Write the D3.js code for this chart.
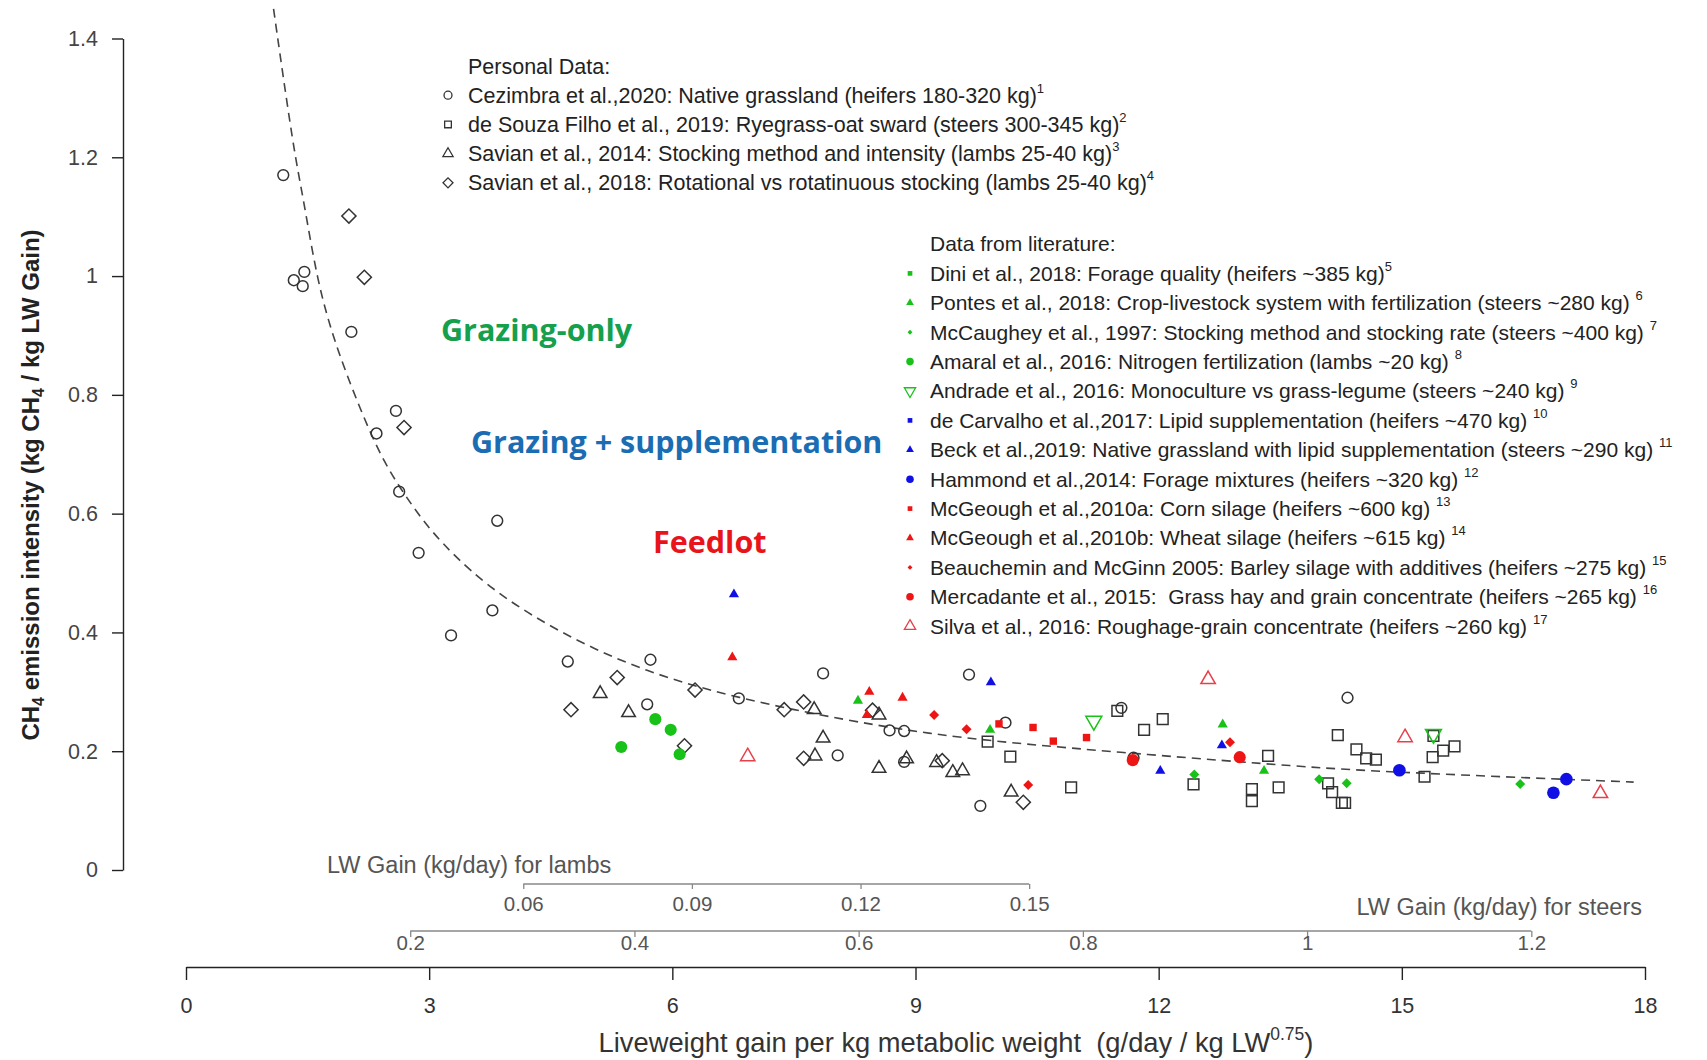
<!DOCTYPE html>
<html>
<head>
<meta charset="utf-8">
<script src="https://cdn.jsdelivr.net/npm/d3@7"></script>
<style>
  body { margin: 0; background: #fff; }
  text { font-family: "Liberation Sans", Arial, sans-serif; }
  .note { font-family: "Open Sans", "Liberation Sans", sans-serif; font-weight: 700; }
</style>
</head>
<body>
<svg id="chart" width="1707" height="1060"></svg>
<script>
// values: [LW gain per kg LW^0.75, kg CH4 / kg LW gain]
const cezimbra = [[1.20,1.170],[1.33,0.993],[1.46,1.007],[1.44,0.983],[2.04,0.906],[2.59,0.773],[2.35,0.735],
  [2.63,0.637],[3.84,0.588],[2.87,0.534],[3.78,0.437],[3.27,0.395],[4.71,0.351],[5.73,0.354],[5.69,0.279],
  [7.86,0.331],[6.82,0.289],[8.04,0.193],[8.68,0.235],[8.86,0.234],[8.86,0.182],[9.66,0.329],[10.11,0.248],
  [9.80,0.108],[11.54,0.273],[11.69,0.189],[14.33,0.290]]
const deSouza = [[9.89,0.216],[10.17,0.191],[10.92,0.139],[11.49,0.268],[11.82,0.236],[12.05,0.254],[12.43,0.144],
  [13.35,0.192],[13.15,0.136],[13.15,0.116],[13.48,0.139],[14.21,0.227],[14.44,0.203],[14.56,0.188],[14.68,0.186],
  [14.09,0.146],[14.14,0.131],[14.26,0.113],[14.30,0.113],[15.28,0.157],[15.38,0.190],[15.51,0.201],[15.65,0.208],
  [15.39,0.226]]
const savian2014 = [[5.11,0.297],[5.46,0.265],[7.75,0.270],[7.86,0.222],[7.76,0.192],[8.55,0.261],[8.55,0.171],
  [8.89,0.187],[9.26,0.181],[9.46,0.164],[9.58,0.167],[10.18,0.131]]
const savian2018 = [[2.01,1.101],[2.20,0.998],[2.69,0.745],[5.32,0.324],[4.75,0.270],[6.28,0.303],[6.15,0.209],
  [7.38,0.270],[7.62,0.283],[7.62,0.188],[8.47,0.269],[9.33,0.184],[10.33,0.114]]
const dini = []
const pontes = [[8.29,0.285],[9.92,0.236],[12.79,0.245],[13.30,0.167]]
const mcCaughey = [[12.44,0.161],[13.98,0.153],[14.32,0.146],[16.46,0.145]]
const amaral = [[5.37,0.207],[5.79,0.254],[5.98,0.236],[6.09,0.195]]
const andrade = [[11.20,0.251],[15.39,0.229]]
const deCarvalho = []
const beck = [[6.76,0.464],[9.93,0.316],[12.02,0.167],[12.78,0.210]]
const hammond = [[14.97,0.168],[17.03,0.153],[16.87,0.130]]
const mcGeoughA = [[10.03,0.246],[10.45,0.240],[10.70,0.217],[11.11,0.223]]
const mcGeoughB = [[6.74,0.358],[8.43,0.300],[8.40,0.261],[8.84,0.290]]
const beauchemin = [[9.23,0.261],[9.63,0.237],[10.39,0.143],[12.88,0.215]]
const mercadante = [[11.68,0.185],[13.00,0.190]]
const silva = [[6.93,0.191],[12.61,0.321],[15.04,0.223],[17.45,0.129]]

// dashed fitted curve
const fitLine = [[1.08,1.45],[1.33,1.21],[1.45,1.13],[1.62,0.99],[1.84,0.885],[2.15,0.775],[2.44,0.685],
  [2.77,0.617],[3.10,0.556],[3.88,0.455],[5.32,0.348],[6.76,0.289],[8.60,0.240],[9.88,0.217],[11.89,0.194],
  [13.75,0.174],[14.81,0.165],[17.86,0.148]]

const yTicks = [0,0.2,0.4,0.6,0.8,1,1.2,1.4]
const xTicks = [0,3,6,9,12,15,18]
const steerTicks = [0.2,0.4,0.6,0.8,1,1.2]
const lambTicks = [0.06,0.09,0.12,0.15]
// kg/day per unit of the main x axis (LW^0.75 of a ~300 kg steer / ~35 kg lamb)
const steerPerUnit = 0.0723
const lambPerUnit = 0.01442

const personalNames = ["cezimbra","deSouza","savian2014","savian2018"]
const personalLabels = [
  ["Cezimbra et al.,2020: Native grassland (heifers 180-320 kg)","1"],
  ["de Souza Filho et al., 2019: Ryegrass-oat sward (steers 300-345 kg)","2"],
  ["Savian et al., 2014: Stocking method and intensity (lambs 25-40 kg)","3"],
  ["Savian et al., 2018: Rotational vs rotatinuous stocking (lambs 25-40 kg)","4"]]
const literatureNames = ["dini","pontes","mcCaughey","amaral","andrade","deCarvalho","beck","hammond",
  "mcGeoughA","mcGeoughB","beauchemin","mercadante","silva"]
const literatureLabels = [
  ["Dini et al., 2018: Forage quality (heifers ~385 kg)","5"],
  ["Pontes et al., 2018: Crop-livestock system with fertilization (steers ~280 kg) ","6"],
  ["McCaughey et al., 1997: Stocking method and stocking rate (steers ~400 kg) ","7"],
  ["Amaral et al., 2016: Nitrogen fertilization (lambs ~20 kg) ","8"],
  ["Andrade et al., 2016: Monoculture vs grass-legume (steers ~240 kg) ","9"],
  ["de Carvalho et al.,2017: Lipid supplementation (heifers ~470 kg) ","10"],
  ["Beck et al.,2019: Native grassland with lipid supplementation (steers ~290 kg) ","11"],
  ["Hammond et al.,2014: Forage mixtures (heifers ~320 kg) ","12"],
  ["McGeough et al.,2010a: Corn silage (heifers ~600 kg) ","13"],
  ["McGeough et al.,2010b: Wheat silage (heifers ~615 kg) ","14"],
  ["Beauchemin and McGinn 2005: Barley silage with additives (heifers ~275 kg) ","15"],
  ["Mercadante et al., 2015:  Grass hay and grain concentrate (heifers ~265 kg) ","16"],
  ["Silva et al., 2016: Roughage-grain concentrate (heifers ~260 kg) ","17"]]

const seriesData = {cezimbra, deSouza, savian2014, savian2018, dini, pontes, mcCaughey, amaral, andrade,
  deCarvalho, beck, hammond, mcGeoughA, mcGeoughB, beauchemin, mercadante, silva}

const green = "#19c219", blue = "#1010e6", red = "#ee1515", ink = "#333"
// marker look: shape, area in plot, area in legend, fill, stroke
const markers = {
  cezimbra:   {shape:"circle",   size:92,  leg:50, fill:"none", stroke:ink},
  deSouza:    {shape:"square",   size:115, leg:45, fill:"none", stroke:ink},
  savian2014: {shape:"triangle", size:80,  leg:45, fill:"none", stroke:ink},
  savian2018: {shape:"diamond",  size:100, leg:50, fill:"none", stroke:ink},
  dini:       {shape:"square",   size:50,  leg:22, fill:green, stroke:"none"},
  pontes:     {shape:"triangle", size:45,  leg:26, fill:green, stroke:"none"},
  mcCaughey:  {shape:"diamond",  size:50,  leg:12, fill:green, stroke:"none"},
  amaral:     {shape:"circle",   size:115, leg:45, fill:green, stroke:"none"},
  andrade:    {shape:"triDown",  size:110, leg:55, fill:"none", stroke:green},
  deCarvalho: {shape:"square",   size:50,  leg:22, fill:blue, stroke:"none"},
  beck:       {shape:"triangle", size:45,  leg:26, fill:blue, stroke:"none"},
  hammond:    {shape:"circle",   size:125, leg:45, fill:blue, stroke:"none"},
  mcGeoughA:  {shape:"square",   size:55,  leg:22, fill:red, stroke:"none"},
  mcGeoughB:  {shape:"triangle", size:45,  leg:26, fill:red, stroke:"none"},
  beauchemin: {shape:"diamond",  size:50,  leg:12, fill:red, stroke:"none"},
  mercadante: {shape:"circle",   size:115, leg:45, fill:red, stroke:"none"},
  silva:      {shape:"triangle", size:90,  leg:55, fill:"none", stroke:"#e8404a"}
}

const symbolType = {circle: d3.symbolCircle, square: d3.symbolSquare, triangle: d3.symbolTriangle,
  triDown: d3.symbolTriangle, diamond: d3.symbolSquare}
const symbolRot = {circle: 0, square: 0, triangle: 0, triDown: 180, diamond: 45}

const svg = d3.select("#chart")

const x = d3.scaleLinear().domain([0, 18]).range([186, 1645])
const y = d3.scaleLinear().domain([0, 1.4]).range([870, 38.5])
const xSteer = d3.scaleLinear().domain([0, 18 * steerPerUnit]).range(x.range())
const xLamb = d3.scaleLinear().domain([0, 18 * lambPerUnit]).range(x.range())

// y axis
const gy = svg.append("g")
  .attr("transform", "translate(123,0)")
  .call(d3.axisLeft(y).tickValues(yTicks).tickFormat(d3.format("~g"))
    .tickSize(11).tickSizeOuter(0).tickPadding(14))
gy.selectAll("path,line").attr("stroke", "#222").attr("stroke-width", 1.4)
gy.selectAll("text").attr("font-size", 21.5).attr("fill", "#444")

// main x axis
const gx = svg.append("g")
  .attr("transform", "translate(0,967)")
  .call(d3.axisBottom(x).tickValues(xTicks).tickSize(13).tickSizeOuter(0).tickPadding(18))
gx.selectAll("path,line").attr("stroke", "#222").attr("stroke-width", 1.4)
gx.selectAll("text").attr("font-size", 21.5).attr("fill", "#333")

// secondary axes, line drawn between first and last tick like R
function subAxis(scale, ticks, ypos, size, pad) {
  const g = svg.append("g")
    .attr("transform", `translate(0,${ypos})`)
    .call(d3.axisBottom(scale).tickValues(ticks).tickFormat(d3.format("~g")).tickSize(size).tickPadding(pad))
  g.select(".domain").remove()
  g.append("line")
    .attr("x1", scale(ticks[0])).attr("x2", scale(ticks[ticks.length - 1]))
    .attr("stroke", "#888").attr("stroke-width", 1.6)
  g.selectAll(".tick line").attr("stroke", "#888").attr("stroke-width", 1.3)
  g.selectAll("text").attr("font-size", 20.5).attr("fill", "#555")
  return g
}
subAxis(xSteer, steerTicks, 931, 6, -2)
subAxis(xLamb, lambTicks, 884, 5, 7)

svg.append("text").attr("x", 327).attr("y", 873)
  .attr("font-size", 23.5).attr("fill", "#555").text("LW Gain (kg/day) for lambs")
svg.append("text").attr("x", 1642).attr("y", 915).attr("text-anchor", "end")
  .attr("font-size", 23.5).attr("fill", "#555").text("LW Gain (kg/day) for steers")

// axis titles
const xt = svg.append("text").attr("x", 956).attr("y", 1052).attr("text-anchor", "middle")
  .attr("font-size", 27.3).attr("fill", "#333").style("white-space", "pre")
xt.append("tspan").text("Liveweight gain per kg metabolic weight  (g/day / kg LW")
xt.append("tspan").attr("font-size", 17.5).attr("dy", -12).text("0.75")
xt.append("tspan").attr("dy", 12).text(")")

const yt = svg.append("text").attr("transform", "translate(39,485) rotate(-90)")
  .attr("text-anchor", "middle").attr("font-size", 24).attr("font-weight", "bold").attr("fill", "#222")
yt.append("tspan").text("CH")
yt.append("tspan").attr("font-size", 16).attr("dy", 5).text("4")
yt.append("tspan").attr("dy", -5).text(" emission intensity (kg CH")
yt.append("tspan").attr("font-size", 16).attr("dy", 5).text("4")
yt.append("tspan").attr("dy", -5).text(" / kg LW Gain)")

// fitted curve
svg.append("path")
  .datum(fitLine)
  .attr("fill", "none").attr("stroke", "#444").attr("stroke-width", 1.6)
  .attr("stroke-dasharray", "9,6")
  .attr("d", d3.line().x(d => x(d[0])).y(d => y(d[1])).curve(d3.curveBasis))

function markPath(name, legend) {
  const m = markers[name]
  return d3.symbol(symbolType[m.shape], legend ? m.leg : m.size)()
}

// points
Object.keys(seriesData).forEach(name => {
  const m = markers[name]
  svg.append("g").selectAll("path")
    .data(seriesData[name])
    .join("path")
      .attr("d", markPath(name, false))
      .attr("transform", d => `translate(${x(d[0])},${y(d[1])}) rotate(${symbolRot[m.shape]})`)
      .attr("fill", m.fill)
      .attr("stroke", m.stroke)
      .attr("stroke-width", 1.5)
})

// legends
function legend(title, names, labels, x0, y0, step, fs) {
  const g = svg.append("g")
  g.append("text").attr("x", x0 + 20).attr("y", y0).attr("dy", "0.35em")
    .attr("font-size", fs).attr("fill", "#222").text(title)
  names.forEach((name, i) => {
    const m = markers[name]
    const yy = y0 + step * (i + 1)
    g.append("path").attr("d", markPath(name, true))
      .attr("transform", `translate(${x0},${yy}) rotate(${symbolRot[m.shape]})`)
      .attr("fill", m.fill).attr("stroke", m.stroke).attr("stroke-width", 1.3)
    const t = g.append("text").attr("x", x0 + 20).attr("y", yy).attr("dy", "0.35em")
      .attr("font-size", fs).attr("fill", "#222").style("white-space", "pre")
    t.append("tspan").text(labels[i][0])
    t.append("tspan").attr("font-size", 13).attr("dy", -10).text(labels[i][1])
  })
}
legend("Personal Data:", personalNames, personalLabels, 448, 66, 29.2, 21.5)
legend("Data from literature:", literatureNames, literatureLabels, 910, 244, 29.4, 21)

// annotations
svg.append("text").attr("class", "note").attr("x", 441).attr("y", 330).attr("dy", "0.35em")
  .attr("font-size", 30.5).attr("fill", "#14a04c").text("Grazing-only")
svg.append("text").attr("class", "note").attr("x", 471).attr("y", 442).attr("dy", "0.35em")
  .attr("font-size", 30.5).attr("fill", "#1a6db3").text("Grazing + supplementation")
svg.append("text").attr("class", "note").attr("x", 653).attr("y", 542).attr("dy", "0.35em")
  .attr("font-size", 30.5).attr("fill", "#e8141a").text("Feedlot")
</script>
</body>
</html>
